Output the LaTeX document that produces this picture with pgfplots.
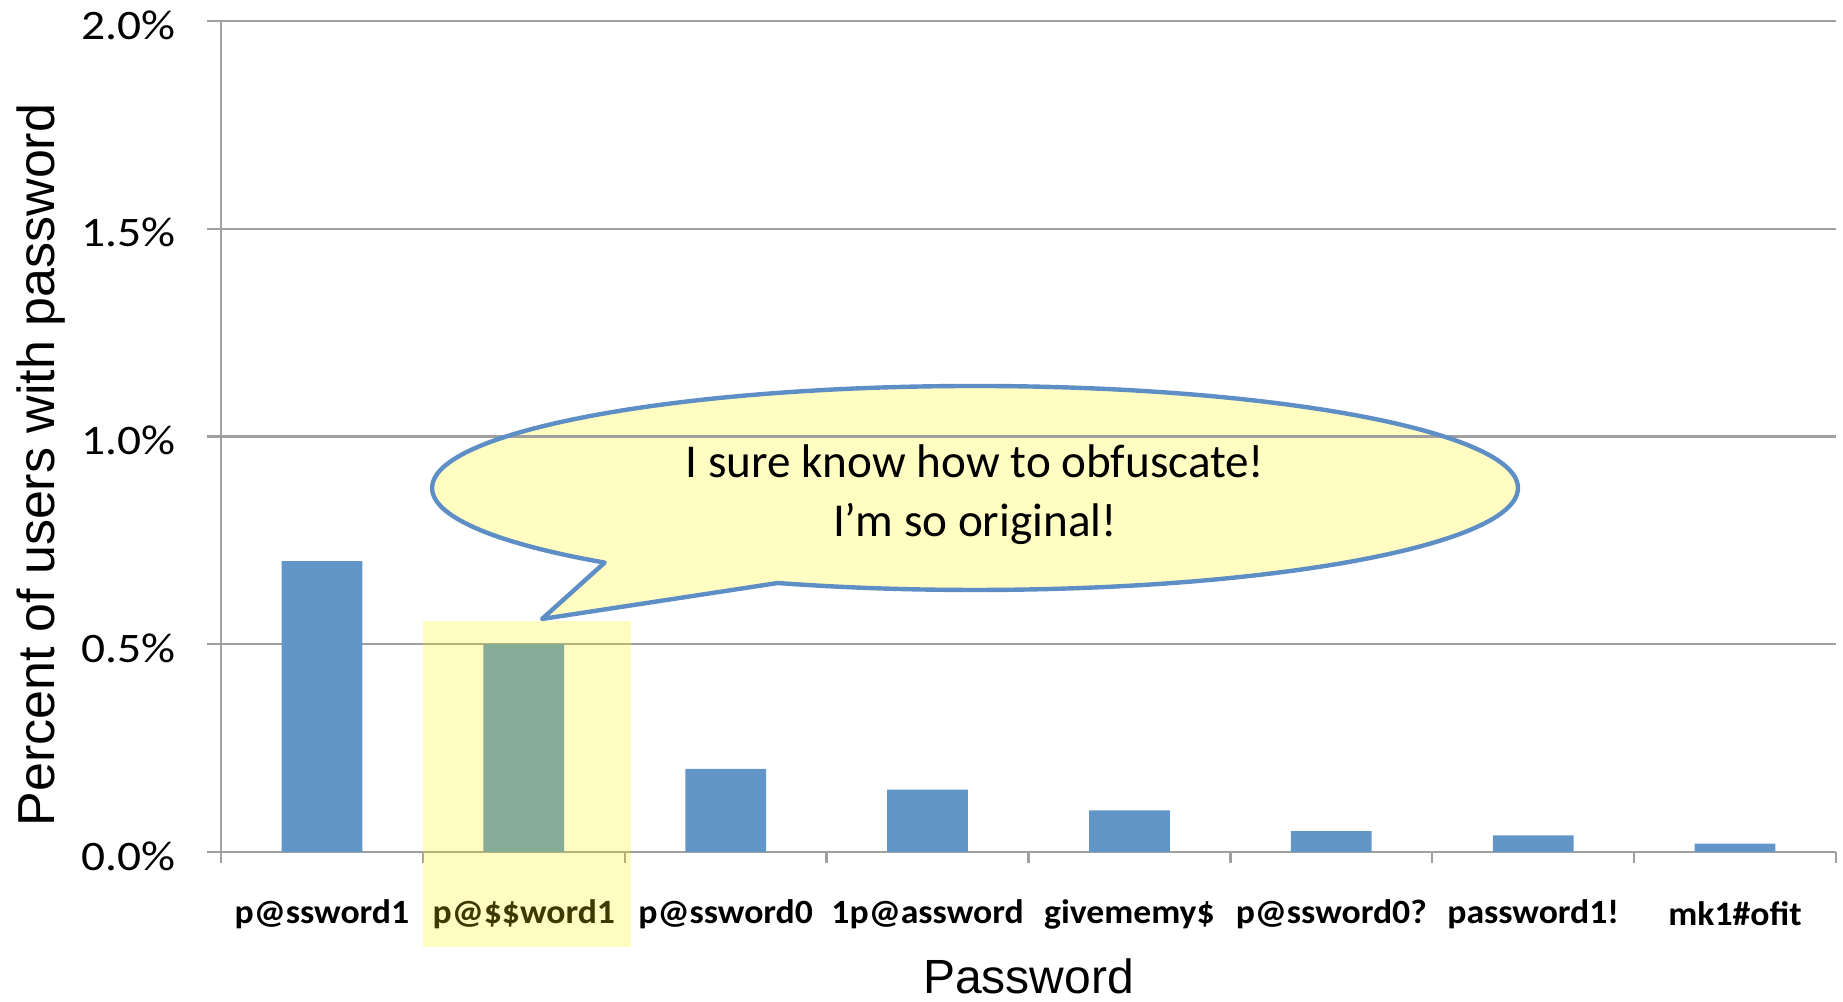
\documentclass[border=0pt]{standalone}
\usepackage{fontspec}
\setmainfont{Carlito}
\newfontfamily\arialfont{Liberation Sans}
\newfontfamily\xtickfont[FakeStretch=1.05]{Carlito}
\newfontfamily\ytickfont[FakeStretch=1.13]{Carlito}
\usepackage{pgfplots}
\pgfplotsset{compat=1.18}
\definecolor{barblue}{RGB}{98,150,201}
\definecolor{gridgray}{RGB}{160,160,160}
\definecolor{callfill}{RGB}{255,253,194}
\definecolor{callline}{RGB}{94,142,198}
\def\calloutpath{(542,619) -- (604.7,562.6) arc[start angle=133, end angle=471.3, x radius=543, y radius=102] -- cycle}
\begin{document}
\begin{tikzpicture}
\begin{scope}[shift={(-55.25pt,213pt)}, x=0.25pt, y=-0.25pt]
\fill[callfill] \calloutpath;
\end{scope}
\begin{axis}[at={(0,0)}, anchor=south west, scale only axis,
  width=403.75pt, height=207.75pt,
  xmin=-0.5, xmax=7.5, ymin=0, ymax=2,
  axis x line*=bottom, axis y line*=left,
  axis line style={gridgray, line width=0.6pt, -},
  ymajorgrids, grid style={gridgray, line width=0.6pt},
  tick align=outside,
  major tick length=3.5pt, minor tick length=2.75pt,
  ytick={0,0.5,1,1.5,2},
  yticklabels={0.0\%,0.5\%,1.0\%,1.5\%,2.0\%},
  y tick style={gridgray, line width=0.6pt},
  xtick={0,1,2,3,4,5,6,7},
  xticklabels={p@ssword1,p@\$\$word1,p@ssword0,1p@assword,givememy\$,p@ssword0?,password1!,mk1\#ofit},
  minor xtick={-0.5,0.5,1.5,2.5,3.5,4.5,5.5,6.5,7.5},
  every major x tick/.append style={draw=none},
  every minor x tick/.append style={gridgray, line width=0.6pt},
  xticklabel style={font=\xtickfont\bfseries\fontsize{8.5}{10}\selectfont, anchor=center, yshift=-12pt},
  yticklabel style={font=\ytickfont\fontsize{10.5}{12}\selectfont, anchor=east, inner sep=0pt, xshift=-7.75pt, yshift=-1pt},
  xlabel={Password},
  ylabel={Percent of users with password},
  xlabel style={font=\arialfont\fontsize{12}{14}\selectfont, at={(axis description cs:0.5,0)}, anchor=base, yshift=-35.5pt},
  ylabel style={font=\arialfont\fontsize{13}{15}\selectfont, at={(axis description cs:0,0.4657)}, anchor=center, yshift=44.9pt},
  ybar, bar width=0.4,
]
\addplot[fill=barblue, draw=none] coordinates {
  (0,0.70) (1,0.50) (2,0.20) (3,0.15) (4,0.10) (5,0.05) (6,0.04) (7,0.02)
};
\end{axis}
\begin{scope}[shift={(-55.25pt,213pt)}, x=0.25pt, y=-0.25pt]
\draw[callline, line width=1.1pt, line join=round] \calloutpath;
\node[anchor=base, font=\fontsize{11.8}{14}\selectfont, inner sep=0pt] at (975,478) {I sure know how to obfuscate!};
\node[anchor=base, font=\fontsize{11.8}{14}\selectfont, inner sep=0pt] at (975,537) {I’m so original!};
\fill[yellow, opacity=0.24] (423,621) rectangle (631,947);
\pgfresetboundingbox
\useasboundingbox (0,0) rectangle (1843,1002);
\end{scope}
\end{tikzpicture}
\end{document}
